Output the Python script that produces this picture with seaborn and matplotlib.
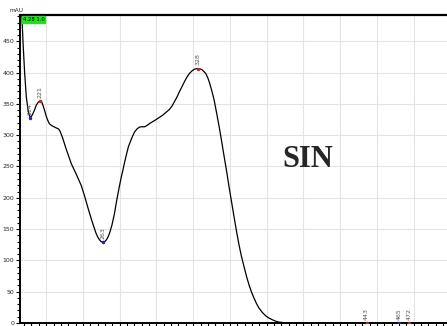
import matplotlib
matplotlib.use("Agg")
import matplotlib.pyplot as plt
import seaborn as sns
import pandas as pd
from matplotlib.ticker import MultipleLocator

# Data (wavelength nm, absorbance mAU)
wavelength = [208.3, 209.3, 210.4, 211.5, 212.7, 213.5, 214.25, 215.0, 216.1, 217.2,
              218.3, 219.7, 221.0, 222.0, 222.8, 224.0, 225.1, 226.2, 227.3, 229.0,
              230.7, 232.0, 233.4, 234.3, 235.2, 236.3, 237.5, 238.6, 239.8, 242.0,
              245.4, 248.8, 251.0, 253.3, 256.0, 258.9, 260.2, 261.2, 262.4, 263.5,
              264.6, 265.7, 266.8, 268.0, 269.7, 271.4, 273.0, 274.7, 276.0, 277.2,
              278.1, 279.5, 281.0, 282.5, 283.7, 285.1, 286.8, 288.5, 290.2, 291.9,
              293.6, 295.3, 299.8, 304.3, 308.8, 310.6, 312.2, 314.0, 315.6, 317.3,
              319.0, 320.7, 322.4, 324.1, 325.8, 327.0, 328.0, 329.5, 330.9, 332.2,
              333.6, 335.0, 336.3, 337.8, 339.3, 341.0, 342.7, 344.4, 346.1, 347.8,
              349.4, 351.1, 352.8, 354.5, 356.2, 357.9, 359.6, 361.3, 363.0, 364.7,
              366.4, 368.1, 369.8, 372.0, 374.3, 376.5, 378.8, 381.0, 383.3, 386.5,
              390.0, 400.0, 430.0, 470.0, 498.0]
absorbance = [500, 446, 398, 361, 340, 332, 328, 330, 335, 341,
              348, 353, 355, 353, 348, 339, 330, 323, 318, 315,
              313, 311.5, 310, 307, 302, 295, 286, 278, 270, 255,
              238, 220, 204, 185, 164, 143.5, 137, 133, 130, 129,
              129.5, 132, 136, 142.5, 156, 174, 196, 217, 232, 244,
              254, 268, 282, 291, 298, 305, 310, 313, 313.5, 313.4,
              315.5, 318.5, 325, 332, 341, 346.5, 353.2, 361, 369.2, 377,
              385.1, 392.5, 398.4, 402.5, 405.3, 406.2, 406.4, 406, 404.8, 402,
              398.4, 391.5, 382.5, 370, 355.9, 335, 313.4, 290, 265.6, 242,
              217.8, 194, 170, 146.5, 124.8, 106, 90.2, 74.5, 61, 49.5,
              39.8, 31, 23.8, 17, 11.6, 8, 5.3, 3.0, 1.5, 0.6,
              0.2, 0.1, 0.1, 0.1, 0.1]

peak_labels = ["214", "221", "263", "328", "443", "465", "472"]
peak_x = [214.25, 221.0, 263.5, 328.0, 443.0, 465.0, 472.0]
peak_y = [328, 355, 129, 406.4, 0.1, 0.1, 0.1]
peak_kind = ["min", "max", "min", "max", "max", "min", "max"]

y_ticks = [0, 50, 100, 150, 200, 250, 300, 350, 400, 450]

df = pd.DataFrame({"wavelength": wavelength, "absorbance": absorbance})

sns.set_style("white")
fig = plt.figure(figsize=(4.47, 3.26), dpi=100)
ax = fig.add_axes([20 / 447, 3 / 326, 427 / 447, 308 / 326])

sns.lineplot(data=df, x="wavelength", y="absorbance", ax=ax, color="black",
             linewidth=0.9, estimator=None, sort=False)

ax.set_xlim(207.2, 497.7)
ax.set_ylim(0, 492)
ax.set_xlabel("")
ax.set_ylabel("")

ax.xaxis.set_major_locator(MultipleLocator(25))
ax.xaxis.set_minor_locator(MultipleLocator(5))
ax.set_yticks(y_ticks)
ax.set_yticklabels([str(t) for t in y_ticks])
ax.yaxis.set_minor_locator(MultipleLocator(10))
ax.grid(True, which="major", color="#e3e3e3", linewidth=0.8)
ax.set_axisbelow(True)

ax.tick_params(axis="x", which="both", labelbottom=False, direction="out",
               length=2.5, width=0.8, color="black", bottom=True)
ax.tick_params(axis="y", which="major", labelsize=4.5, direction="out",
               length=3, width=0.8, color="black", left=True, pad=1)
ax.tick_params(axis="y", which="minor", direction="out", length=2,
               width=0.8, color="black", left=True)

for side in ["left", "bottom", "top"]:
    ax.spines[side].set_visible(True)
    ax.spines[side].set_color("black")
ax.spines["left"].set_linewidth(1.4)
ax.spines["bottom"].set_linewidth(1.4)
ax.spines["top"].set_linewidth(1.6)
ax.spines["right"].set_visible(False)

# peak markers and labels
for lab, px, py, kind in zip(peak_labels, peak_x, peak_y, peak_kind):
    c = "#cc2222" if kind == "max" else "#2222aa"
    ax.plot([px], [py], marker="o", markersize=1.5, color=c, zorder=5)
    ax.text(px, py + 5, lab, rotation=90, fontsize=4.5, color="#555555",
            ha="center", va="bottom")

# top-left green box and unit label
ax.text(0.006, 0.994, "4.28 1.0", transform=ax.transAxes, fontsize=3.8,
        ha="left", va="top", color="black",
        bbox=dict(boxstyle="square,pad=0.2", facecolor="#22dd22",
                  edgecolor="#22dd22"))
fig.text(16 / 447, 1 - 10 / 326, "mAU", fontsize=4.2, ha="center",
         va="center")

fig.text(308 / 447, 1 - 159 / 326, "SIN", family="Liberation Serif",
         fontweight="bold", fontsize=22, ha="center", va="center")

fig.savefig("out.png", dpi=100)
